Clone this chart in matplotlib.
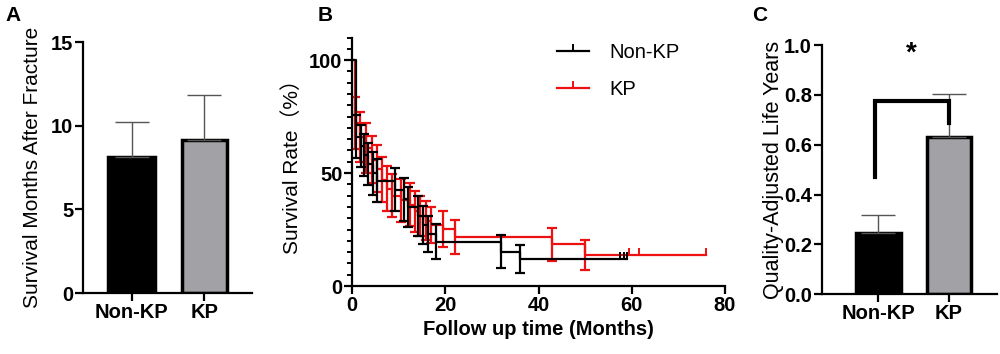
import matplotlib
matplotlib.use("Agg")
import matplotlib.pyplot as plt
from matplotlib.lines import Line2D

plt.rcParams['font.family'] = ['Liberation Sans', 'Noto Sans CJK SC', 'DejaVu Sans']

# panel A / C bar data
groups = ['Non-KP', 'KP']
months_mean = [8.15, 9.12]
months_err = [2.07, 2.70]
qaly_mean = [0.245, 0.63]
qaly_err = [0.073, 0.173]

# panel B Kaplan-Meier (time in months, survival %, error)
nonkp_t = [0, 0.9, 1.9, 2.6, 3.5, 4.6, 5.3, 9.2, 11.2, 12.1, 14.2, 15.3, 16.2, 18.0, 32.0, 36.0]
nonkp_s = [100, 66, 62, 58, 54, 50, 46.6, 42.7, 38.5, 35.0, 31.0, 27.0, 23.0, 19.6, 15.2, 11.8]
nonkp_e = [0, 9.5, 9.5, 9.5, 9.5, 9.5, 9.5, 9.5, 9.5, 9.0, 9.0, 8.5, 8.0, 7.8, 7.2, 6.2]
nonkp_cens = [57.5, 58.3, 59.0]
nonkp_end = 59.0

kp_t = [0, 0.7, 1.8, 3.0, 4.2, 5.3, 6.4, 7.5, 8.6, 10.5, 12.5, 13.6, 14.6, 15.8, 17.0, 19.6, 22.0, 43.0, 50.0]
kp_s = [100, 72, 66, 61, 56, 52, 47, 43, 40, 38, 36, 33, 31, 29, 27, 25.2, 21.8, 18.4, 13.7]
kp_e = [0, 11.5, 11, 11, 10.5, 10.5, 10, 10, 9.5, 9.5, 9.5, 9, 9, 8.5, 8, 8, 7.5, 7.2, 6.5]
kp_cens = [59.5, 61.6, 76.0]
kp_end = 76.0

fig = plt.figure(figsize=(10, 3.54), dpi=100)


def style_axes(ax):
    for s in ['top', 'right']:
        ax.spines[s].set_visible(False)
    for s in ['left', 'bottom']:
        ax.spines[s].set_linewidth(1.6)
    ax.tick_params(width=1.6, length=5.5, pad=1.5, labelsize=14.5)
    for lab in ax.get_xticklabels() + ax.get_yticklabels():
        lab.set_fontweight('bold')


def bar_panel(ax, means, errs, xlim):
    ax.bar([0], [means[0]], width=0.64, color='black', edgecolor='black', linewidth=2.5)
    ax.bar([1], [means[1]], width=0.62, color='#a2a2a6', edgecolor='black', linewidth=2.5)
    ax.errorbar([0, 1], means, yerr=[[0, 0], errs], fmt='none', ecolor='#555555',
                elinewidth=1.0, capsize=12, capthick=1.0, zorder=1)
    ax.set_xticks([0, 1])
    ax.set_xticklabels(groups)
    ax.set_xlim(*xlim)


# ---- A ----
axA = fig.add_axes([0.083, 0.1723, 0.169, 0.709])
bar_panel(axA, months_mean, months_err, (-0.67, 1.66))
axA.set_ylim(0, 15)
axA.set_yticks([0, 5, 10, 15])
style_axes(axA)
axA.set_ylabel('Survival Months After Fracture', fontsize=15)
axA.yaxis.set_label_coords(-0.245, 0.5)
fig.text(0.005, 0.955, 'A', fontsize=15, fontweight='bold', va='center')

# ---- B ----
axB = fig.add_axes([0.352, 0.192, 0.373, 0.702])


def km(ax, t, s, e, cens, end, color):
    tt = list(t) + [end]
    ss = list(s) + [s[-1]]
    ax.step(tt, ss, where='post', color=color, lw=1.6)
    ax.errorbar(t[1:], s[1:], yerr=e[1:], fmt='none', ecolor=color,
                elinewidth=1.6, capsize=3.5, capthick=1.6)
    ax.plot(cens, [s[-1]] * len(cens), linestyle='none', marker=2, markersize=5,
            color=color, markeredgewidth=1.4)


km(axB, kp_t, kp_s, kp_e, kp_cens, kp_end, '#ee1111')
km(axB, nonkp_t, nonkp_s, nonkp_e, nonkp_cens, nonkp_end, 'black')
axB.set_xlim(0, 80)
axB.set_ylim(0, 110)
axB.set_xticks([0, 20, 40, 60, 80])
axB.set_yticks([0, 50, 100])
axB.set_yticks(range(0, 111, 5), minor=True)
style_axes(axB)
axB.tick_params(axis='y', which='minor', width=1.4, length=3.5)
axB.set_xlabel('Follow up time (Months)', fontsize=14.5, fontweight='bold')
axB.set_ylabel('Survival Rate（%）', fontsize=15)
axB.yaxis.set_label_coords(-0.135, 0.5)
handles = [Line2D([], [], color='black', lw=1.6, marker=2, markersize=5, markeredgewidth=1.4),
           Line2D([], [], color='#ee1111', lw=1.6, marker=2, markersize=5, markeredgewidth=1.4)]
axB.legend(handles, groups, loc='upper left', bbox_to_anchor=(0.5, 1.05), frameon=False,
           fontsize=14.5, handlelength=1.6, handletextpad=1.0, labelspacing=0.9)
fig.text(0.318, 0.955, 'B', fontsize=15, fontweight='bold', va='center')

# ---- C ----
axC = fig.add_axes([0.8217, 0.1686, 0.175, 0.704])
bar_panel(axC, qaly_mean, qaly_err, (-0.8, 1.675))
axC.set_ylim(0, 1.0)
axC.set_yticks([0, 0.2, 0.4, 0.6, 0.8, 1.0])
axC.set_yticklabels(['0.0', '0.2', '0.4', '0.6', '0.8', '1.0'])
style_axes(axC)
axC.set_ylabel('Quality-Adjusted Life Years', fontsize=15.5)
axC.yaxis.set_label_coords(-0.215, 0.5)
# significance bracket
axC.plot([-0.05, -0.05, 1.0, 1.0], [0.472, 0.775, 0.775, 0.688], color='black', lw=3,
         solid_joinstyle='miter', clip_on=False)
axC.text(0.47, 0.965, '*', fontsize=20, fontweight='bold', ha='center', va='center')
fig.text(0.752, 0.955, 'C', fontsize=15, fontweight='bold', va='center')

fig.savefig('out.png', dpi=100)
